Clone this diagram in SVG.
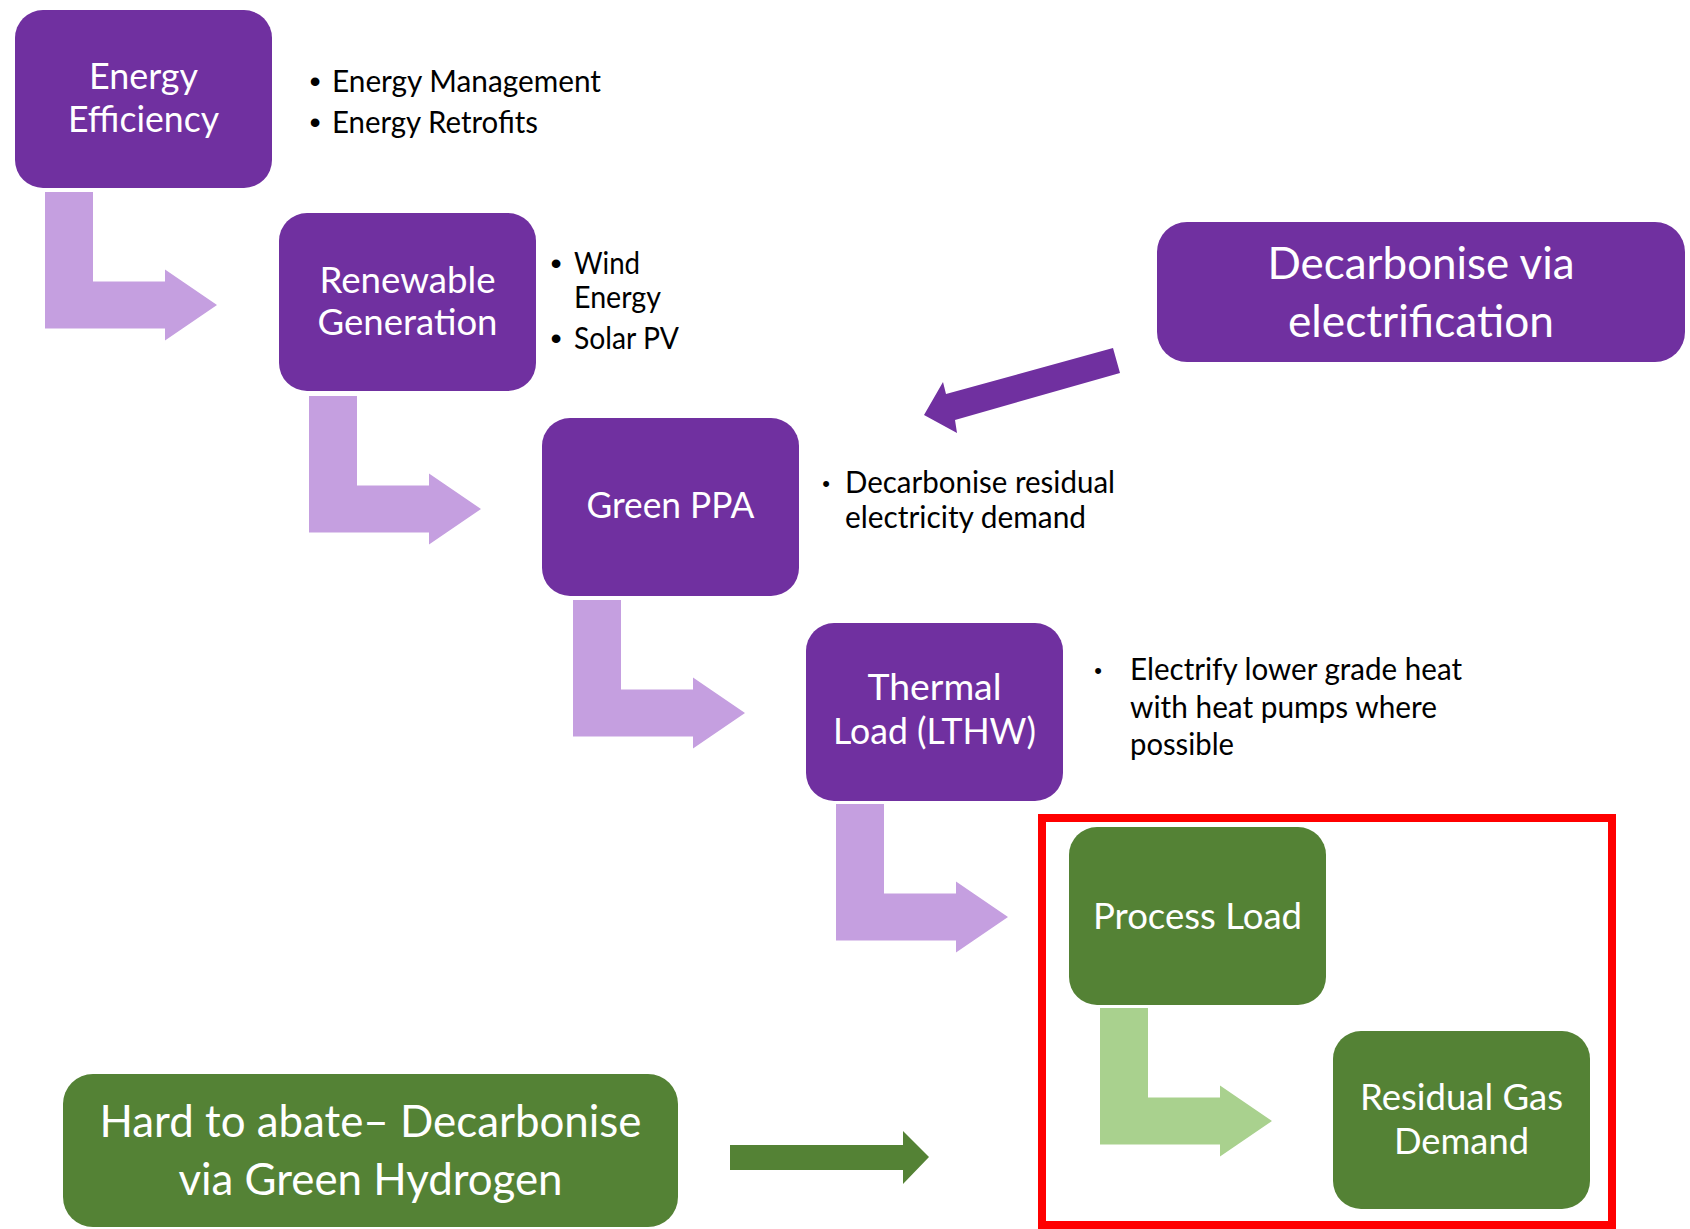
<svg xmlns="http://www.w3.org/2000/svg" xmlns:xlink="http://www.w3.org/1999/xlink" width="1690" height="1229" viewBox="0 0 1690 1229">
<style>
.pbox{fill:#7030A0;}
.gbox{fill:#548235;}
.nt{font-family:Lato,"Liberation Sans",sans-serif;font-size:37px;fill:#FFFFFF;text-anchor:middle;}
.big{font-family:Lato,"Liberation Sans",sans-serif;font-size:44px;fill:#FFFFFF;text-anchor:middle;}
.bt{font-family:Lato,"Liberation Sans",sans-serif;font-size:30px;fill:#000000;}
.bd{font-family:"Liberation Sans",sans-serif;font-size:32px;fill:#000000;text-anchor:middle;}
.bs{font-family:"Liberation Sans",sans-serif;font-size:22px;fill:#000000;text-anchor:middle;}
.lp{fill:#C59FE0;}
.lg{fill:#A9D18E;}
</style>
<defs>
<path id="bent" d="M -172 -113 H -124 V -23.5 H -52 V -35.5 L 0 0 L -52 35.5 V 23.5 H -172 Z"/>
</defs>
<rect width="1690" height="1229" fill="#FFFFFF"/>
<g id="connectors">
<use xlink:href="#bent" href="#bent" x="217" y="305" class="lp"/>
<use xlink:href="#bent" href="#bent" x="481" y="509" class="lp"/>
<use xlink:href="#bent" href="#bent" x="745" y="713" class="lp"/>
<use xlink:href="#bent" href="#bent" x="1008" y="917" class="lp"/>
<use xlink:href="#bent" href="#bent" x="1272" y="1121" class="lg"/>
<polygon points="1113,348 946,394 943,382 924,415 957,433 955,420 1120,373" fill="#7030A0"/>
<polygon points="730,1145 903,1145 903,1131 929,1157 903,1184 903,1170 730,1170" fill="#548235"/>
</g>
<g id="energy-efficiency">
<rect class="pbox" x="15" y="10" width="257" height="178" rx="28"/>
<text class="nt" x="143.5" y="89" textLength="109" lengthAdjust="spacingAndGlyphs">Energy</text>
<text class="nt" x="143.5" y="132" textLength="151" lengthAdjust="spacingAndGlyphs">Efficiency</text>
</g>
<g id="ee-bullets">
<text class="bd" x="315" y="92">•</text>
<text class="bt" x="332" y="92" textLength="269" lengthAdjust="spacingAndGlyphs">Energy Management</text>
<text class="bd" x="315" y="133">•</text>
<text class="bt" x="332" y="133" textLength="206" lengthAdjust="spacingAndGlyphs">Energy Retrofits</text>
</g>
<g id="renewable-generation">
<rect class="pbox" x="279" y="213" width="257" height="178" rx="28"/>
<text class="nt" x="407.5" y="293" textLength="176" lengthAdjust="spacingAndGlyphs">Renewable</text>
<text class="nt" x="407.5" y="335" textLength="180" lengthAdjust="spacingAndGlyphs">Generation</text>
</g>
<g id="rg-bullets">
<text class="bd" x="556" y="274">•</text>
<text class="bt" x="574" y="274" textLength="66" lengthAdjust="spacingAndGlyphs">Wind</text>
<text class="bt" x="574" y="308" textLength="87" lengthAdjust="spacingAndGlyphs">Energy</text>
<text class="bd" x="556" y="349">•</text>
<text class="bt" x="574" y="349" textLength="105" lengthAdjust="spacingAndGlyphs">Solar PV</text>
</g>
<g id="green-ppa">
<rect class="pbox" x="542" y="418" width="257" height="178" rx="28"/>
<text class="nt" x="670.5" y="518" textLength="168" lengthAdjust="spacingAndGlyphs">Green PPA</text>
</g>
<g id="ppa-bullets">
<text class="bs" x="826" y="491">•</text>
<text class="bt" x="845" y="493" textLength="270" lengthAdjust="spacingAndGlyphs">Decarbonise residual</text>
<text class="bt" x="845" y="528" textLength="241" lengthAdjust="spacingAndGlyphs">electricity demand</text>
</g>
<g id="decarbonise-electrification">
<rect class="pbox" x="1157" y="222" width="528" height="140" rx="30"/>
<text class="big" x="1421" y="279" textLength="307" lengthAdjust="spacingAndGlyphs">Decarbonise via</text>
<text class="big" x="1421" y="337" textLength="266" lengthAdjust="spacingAndGlyphs">electrification</text>
</g>
<g id="thermal-load">
<rect class="pbox" x="806" y="623" width="257" height="178" rx="28"/>
<text class="nt" x="934.5" y="700" textLength="134" lengthAdjust="spacingAndGlyphs">Thermal</text>
<text class="nt" x="934.5" y="744" textLength="203" lengthAdjust="spacingAndGlyphs">Load (LTHW)</text>
</g>
<g id="thermal-bullets">
<text class="bs" x="1098" y="678">•</text>
<text class="bt" x="1130" y="680" textLength="332" lengthAdjust="spacingAndGlyphs">Electrify lower grade heat</text>
<text class="bt" x="1130" y="718" textLength="307" lengthAdjust="spacingAndGlyphs">with heat pumps where</text>
<text class="bt" x="1130" y="755" textLength="104" lengthAdjust="spacingAndGlyphs">possible</text>
</g>
<g id="hard-to-abate-group">
<rect x="1042" y="818" width="570" height="407" fill="none" stroke="#FF0000" stroke-width="8"/>
</g>
<g id="process-load">
<rect class="gbox" x="1069" y="827" width="257" height="178" rx="28"/>
<text class="nt" x="1197.5" y="929" textLength="209" lengthAdjust="spacingAndGlyphs">Process Load</text>
</g>
<g id="residual-gas-demand">
<rect class="gbox" x="1333" y="1031" width="257" height="178" rx="28"/>
<text class="nt" x="1461.5" y="1110" textLength="203" lengthAdjust="spacingAndGlyphs">Residual Gas</text>
<text class="nt" x="1461.5" y="1154" textLength="135" lengthAdjust="spacingAndGlyphs">Demand</text>
</g>
<g id="green-hydrogen">
<rect class="gbox" x="63" y="1074" width="615" height="153" rx="30"/>
<text class="big" x="370.5" y="1137" textLength="542" lengthAdjust="spacingAndGlyphs">Hard to abate– Decarbonise</text>
<text class="big" x="370.5" y="1195" textLength="384" lengthAdjust="spacingAndGlyphs">via Green Hydrogen</text>
</g>
</svg>
